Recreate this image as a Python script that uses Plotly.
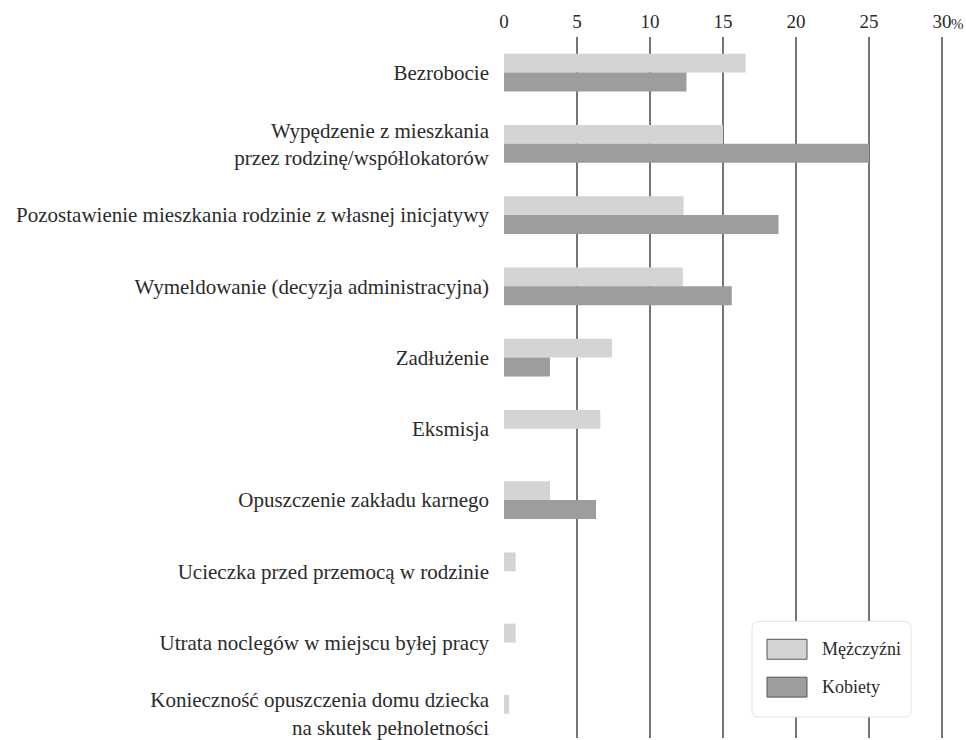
import plotly.graph_objects as go

categories = [
    "Bezrobocie",
    "Wypędzenie z mieszkania<br>przez rodzinę/współlokatorów",
    "Pozostawienie mieszkania rodzinie z własnej inicjatywy",
    "Wymeldowanie (decyzja administracyjna)",
    "Zadłużenie",
    "Eksmisja",
    "Opuszczenie zakładu karnego",
    "Ucieczka przed przemocą w rodzinie",
    "Utrata noclegów w miejscu byłej pracy",
    "Konieczność opuszczenia domu dziecka<br>na skutek pełnoletności",
]
men = [16.55, 15.0, 12.3, 12.25, 7.4, 6.6, 3.15, 0.8, 0.8, 0.35]
women = [12.5, 25.0, 18.8, 15.6, 3.15, 0.0, 6.3, 0.0, 0.0, 0.0]
tick_vals = [0, 5, 10, 15, 20, 25, 30]
tick_text = ["0", "5", "10", "15", "20", "25", "30"]
series_names = ["Mężczyźni", "Kobiety"]

W, H = 966, 740
L, R, T, B = 504, 16, 37, 0
PW, PH = W - L - R, H - T - B
C_MEN = "#d4d4d4"
C_WOMEN = "#9c9d9f"
FONT = "Liberation Serif"
TXT = "#2b2b2b"

fig = go.Figure()
fig.add_trace(go.Bar(y=categories, x=men, orientation="h", name=series_names[0],
                     marker=dict(color=C_MEN, line=dict(width=0))))
fig.add_trace(go.Bar(y=categories, x=women, orientation="h", name=series_names[1],
                     marker=dict(color=C_WOMEN, line=dict(width=0))))

def px2paper(x, y):
    return (x - L) / PW, (H - B - y) / PH

# legend box (rounded)
x0, y0, x1, y1, r = 752, 623, 911, 719, 7
def P(x, y):
    a, b = px2paper(x, y)
    return f"{a:.5f},{b:.5f}"
path = (f"M {P(x0 + r, y0)} L {P(x1 - r, y0)} Q {P(x1, y0)} {P(x1, y0 + r)} "
        f"L {P(x1, y1 - r)} Q {P(x1, y1)} {P(x1 - r, y1)} L {P(x0 + r, y1)} "
        f"Q {P(x0, y1)} {P(x0, y1 - r)} L {P(x0, y0 + r)} Q {P(x0, y0)} {P(x0 + r, y0)} Z")
shapes = [dict(type="path", xref="paper", yref="paper", path=path,
               fillcolor="white", line=dict(color="#e2e2e2", width=1), layer="above")]
annotations = []
for i, (name, col) in enumerate(zip(series_names, [C_MEN, C_WOMEN])):
    ry0 = 641 + i * 38
    ax0, ay0 = px2paper(767, ry0)
    ax1, ay1 = px2paper(807, ry0 + 20)
    shapes.append(dict(type="rect", xref="paper", yref="paper", x0=ax0, x1=ax1, y0=ay1, y1=ay0,
                       fillcolor=col, line=dict(color="#555555", width=1), layer="above"))
    tx, ty = px2paper(820, ry0 + 10)
    annotations.append(dict(xref="paper", yref="paper", x=tx, y=ty, text=name, showarrow=False,
                            xanchor="left", yanchor="middle",
                            font=dict(family=FONT, size=18, color=TXT)))

# percent sign after "30"
annotations.append(dict(xref="x", yref="paper", x=30, y=1, yshift=4, xshift=8, text="%",
                        showarrow=False, xanchor="left", yanchor="bottom", borderpad=0,
                        font=dict(family=FONT, size=15, color=TXT)))

fig.update_layout(
    width=W, height=H,
    margin=dict(l=L, r=R, t=T, b=B, pad=0),
    plot_bgcolor="white", paper_bgcolor="white",
    barmode="group", bargap=0.47, bargroupgap=0,
    showlegend=False,
    font=dict(family=FONT, size=21, color=TXT),
    shapes=shapes, annotations=annotations,
    xaxis=dict(side="top", range=[0, PW / 14.6], tickmode="array", tickvals=tick_vals,
               ticktext=tick_text, showgrid=True, gridcolor="#747776", gridwidth=2,
               zeroline=False, showline=False, ticks="", ticklabelstandoff=4,
               tickfont=dict(family=FONT, size=19, color=TXT)),
    yaxis=dict(type="category", categoryorder="array", categoryarray=categories,
               range=[9.34, -0.5], showgrid=False, zeroline=False, showline=False,
               ticks="", ticklabelstandoff=14,
               tickfont=dict(family=FONT, size=21, color=TXT)),
)

fig.write_html("out.html", config={"displayModeBar": False},
               post_script="document.body.style.margin='0';document.body.style.overflow='hidden';")
